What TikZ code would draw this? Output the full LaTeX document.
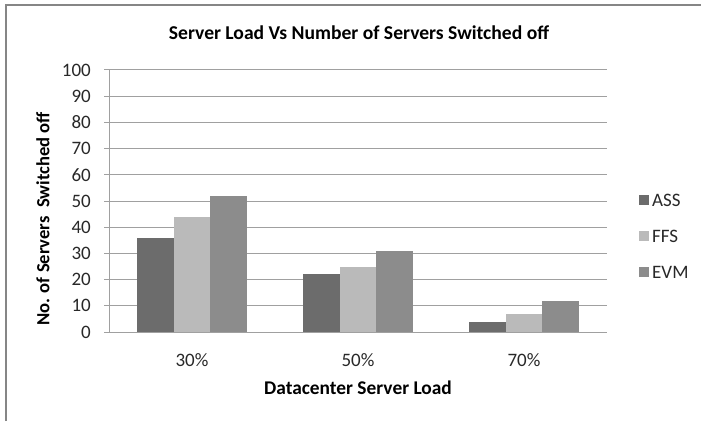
\documentclass[tikz,border=0pt]{standalone}
\usepackage{fontspec}
\setmainfont{Carlito}
\definecolor{BarASS}   {RGB}{108,108,108}
\definecolor{BarFFS}   {RGB}{186,186,186}
\definecolor{BarEVM}   {RGB}{140,140,140}
\definecolor{GridGray} {RGB}{160,160,160}
\definecolor{FrameGray}{RGB}{134,134,134}
\definecolor{TickText} {RGB}{40,40,40}
\usetikzlibrary{positioning}

\begin{document}
\begin{tikzpicture}[x=1pt,y=1pt,every node/.style={font=\fontsize{19}{21}\selectfont,inner sep=0pt}]
  \useasboundingbox (0,0) rectangle (701,421);
  %% Outer frame (only top and left edge visible)
  \draw[FrameGray,line width=1.6pt] (6,0) -- (6,416) -- (701,416);
  %% Chart title
  \node[font=\fontsize{19.6}{21}\selectfont\bfseries] (title) at (359,388)
    {Server Load Vs Number of Servers Switched off};
  %% Plot area
  \begin{scope}[shift={(109,89)},y=2.62pt]
    \foreach \v in {0,10,...,100}{
      \draw[GridGray,line width=1pt] (-5,\v) -- (498,\v);
      \node[anchor=east,text=TickText] (tick\v) at (-18,\v) {\v};
    }
    \draw[GridGray,line width=1pt] (0,0) -- (0,100);
    %% Bars: centre / ASS / FFS / EVM
    \foreach \c/\a/\f/\e/\t in {
        83/36/44/52/{30\%},
        249/22/25/31/{50\%},
        415/4/7/12/{70\%}}{
      \fill[BarASS] (\c-55,0) rectangle (\c-18.3,\a);
      \fill[BarFFS] (\c-18.3,0) rectangle (\c+18.3,\f);
      \fill[BarEVM] (\c+18.3,0) rectangle (\c+55,\e);
      \node[text=TickText] (cat\c) at (\c,-10.7) {\t};
    }
  \end{scope}
  %% Axis titles
  \node[font=\fontsize{19.4}{21}\selectfont\bfseries] (xtitle) at (358,33)
    {Datacenter Server Load};
  \node[font=\fontsize{18.6}{21}\selectfont\bfseries,rotate=90] (ytitle) at (43,202)
    {No. of Servers\ \ Switched off};
  %% Legend
  \foreach \y/\fc/\t in {221/BarASS/ASS, 185/BarFFS/FFS, 149/BarEVM/EVM}{
    \fill[\fc] (639,\y-5) rectangle (649,\y+5);
    \node[anchor=west,text=TickText] (leg\t) at (652,\y) {\t};
  }
\end{tikzpicture}
\end{document}
